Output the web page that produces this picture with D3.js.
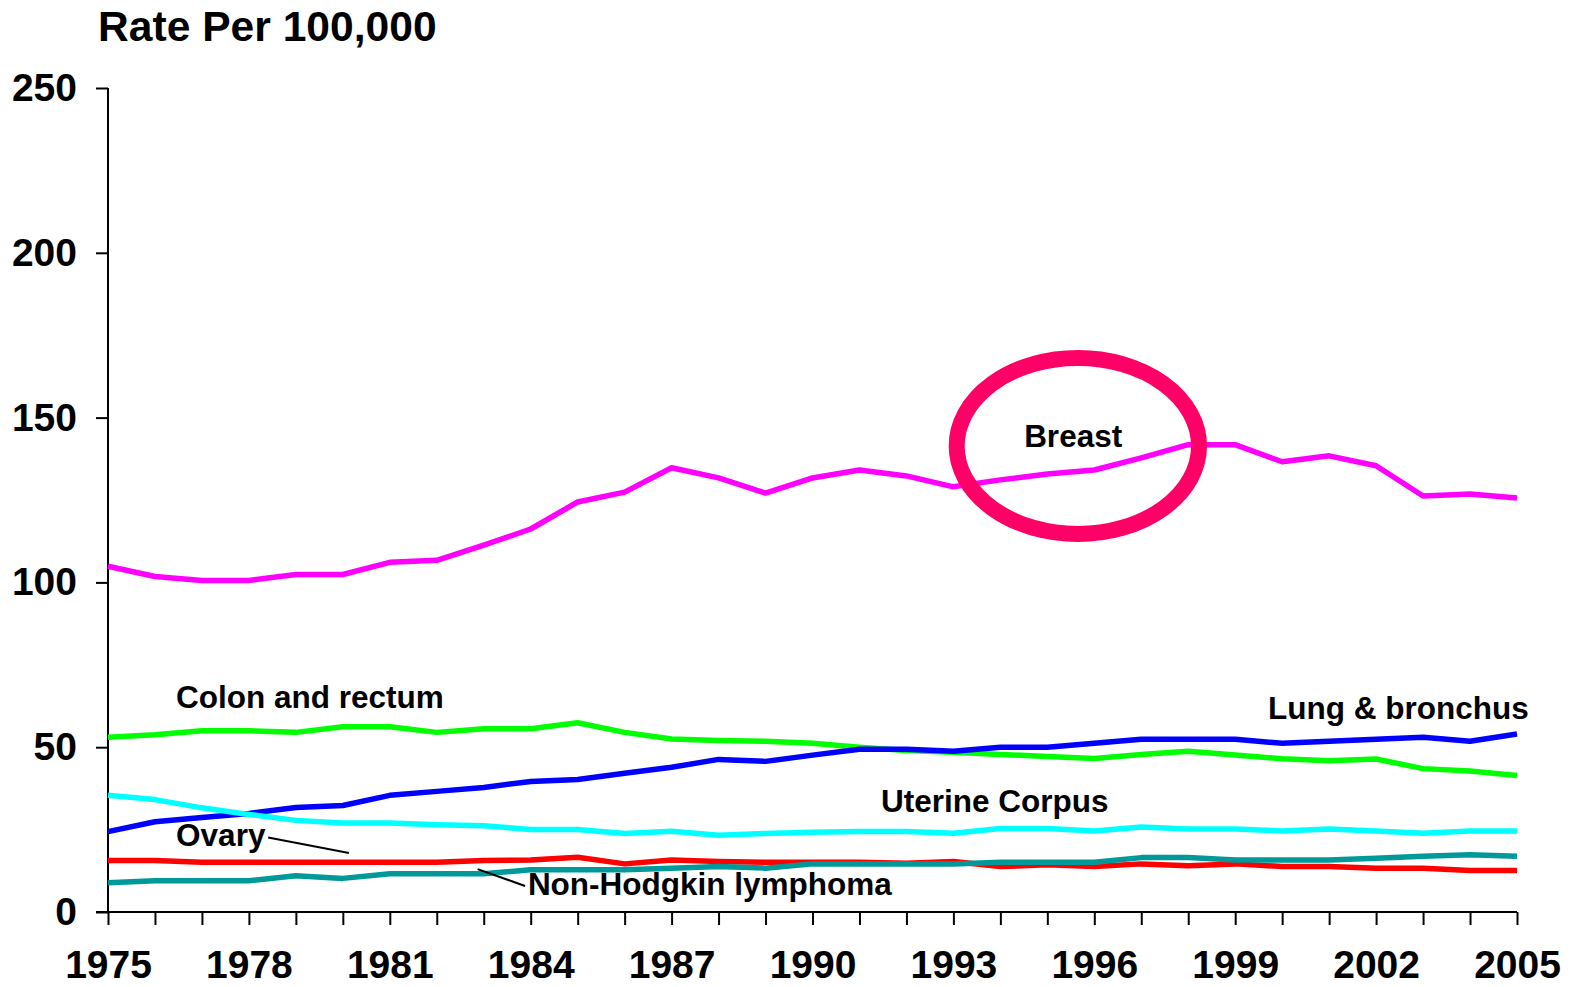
<!DOCTYPE html>
<html>
<head>
<meta charset="utf-8">
<script src="https://cdn.jsdelivr.net/npm/d3@7"></script>
<style>
  body { margin: 0; background: #fff; }
  svg { font-family: "Liberation Sans", Arial, sans-serif; font-weight: bold; }
  .axis path, .axis line { stroke: #000; stroke-width: 2; }
</style>
</head>
<body>
<div id="chart"></div>
<script>
// years 1975..2005
var years = d3.range(1975, 2006);

var breast = [104.9, 101.8, 100.6, 100.6, 102.4, 102.4, 106.1, 106.7, 111.3, 116.2,
              124.4, 127.4, 134.8, 131.7, 127.1, 131.7, 134.1, 132.3, 129.0, 131.1,
              132.9, 134.1, 137.8, 141.8, 141.8, 136.6, 138.4, 135.4, 126.2, 126.8, 125.6];
var colon = [53.0, 53.8, 55.0, 55.0, 54.5, 56.2, 56.2, 54.5, 55.6, 55.6,
             57.4, 54.5, 52.5, 52.0, 51.8, 51.2, 50.0, 49.0, 48.5, 47.8,
             47.2, 46.6, 47.8, 48.8, 47.6, 46.5, 45.9, 46.4, 43.5, 42.8, 41.4];
var lung = [24.4, 27.4, 28.7, 29.9, 31.7, 32.3, 35.4, 36.6, 37.8, 39.6,
            40.2, 42.1, 43.9, 46.3, 45.7, 47.6, 49.4, 49.4, 48.8, 50.0,
            50.0, 51.2, 52.4, 52.4, 52.4, 51.2, 51.8, 52.4, 53.0, 51.8, 54.0];
var uterine = [35.4, 34.1, 31.6, 29.6, 27.8, 27.0, 27.0, 26.5, 26.2, 25.0,
               25.0, 23.8, 24.5, 23.3, 23.8, 24.2, 24.4, 24.4, 23.9, 25.3,
               25.3, 24.6, 25.8, 25.2, 25.2, 24.6, 25.2, 24.6, 23.9, 24.6, 24.6];
var ovary = [15.6, 15.6, 15.1, 15.1, 15.1, 15.1, 15.1, 15.1, 15.6, 15.8,
             16.6, 14.6, 15.8, 15.3, 15.1, 15.1, 15.1, 14.8, 15.3, 13.8,
             14.3, 13.8, 14.6, 14.0, 14.6, 13.8, 13.8, 13.3, 13.3, 12.6, 12.6];
var nhl = [8.9, 9.5, 9.5, 9.5, 11.0, 10.2, 11.6, 11.6, 11.6, 12.8,
           12.8, 12.8, 13.3, 13.8, 13.3, 14.6, 14.6, 14.6, 14.6, 15.1,
           15.1, 15.1, 16.5, 16.5, 15.8, 15.8, 15.8, 16.3, 16.9, 17.4, 16.9];

var yTicks = [0, 50, 100, 150, 200, 250];
var xTickLabels = [1975, 1978, 1981, 1984, 1987, 1990, 1993, 1996, 1999, 2002, 2005];

var series = [
  { name: "Colon and rectum", values: colon, color: "#00ff00" },
  { name: "Lung & bronchus", values: lung, color: "#0000ff" },
  { name: "Uterine Corpus", values: uterine, color: "#00ffff" },
  { name: "Ovary", values: ovary, color: "#ff0000" },
  { name: "Non-Hodgkin lymphoma", values: nhl, color: "#009999" },
  { name: "Breast", values: breast, color: "#ff00ff" }
];

// label positions given in data units (year, rate)
var labels = [
  { text: "Breast", year: 1995.55, rate: 141.0, anchor: "middle" },
  { text: "Colon and rectum", year: 1976.45, rate: 61.8, anchor: "start" },
  { text: "Lung & bronchus", year: 2005.25, rate: 58.6, anchor: "end" },
  { text: "Uterine Corpus", year: 1991.46, rate: 30.2, anchor: "start" },
  { text: "Ovary", year: 1976.45, rate: 20.1, anchor: "start" },
  { text: "Non-Hodgkin lymphoma", year: 1983.94, rate: 5.2, anchor: "start" }
];
// pointer lines [year1, rate1, year2, rate2]
var pointers = [
  [1978.41, 22.6, 1980.13, 17.9],
  [1982.87, 13.0, 1983.88, 7.9]
];
// highlight ellipse: centre (year, rate), half-width in years, half-height in rate
var highlight = { year: 1995.65, rate: 141.4, rYears: 2.58, rRate: 26.7 };

var margin = {top: 88, right: 60, bottom: 75, left: 108},
    width = 1577 - margin.left - margin.right,
    height = 987 - margin.top - margin.bottom;

var svgRoot = d3.select("#chart").append("svg")
    .attr("width", 1577)
    .attr("height", 987);
var svg = svgRoot.append("g")
    .attr("transform", "translate(" + margin.left + "," + margin.top + ")");

var x = d3.scaleLinear().domain([1975, 2005]).range([0, width]);
var y = d3.scaleLinear().domain([0, 250]).range([height, 0]);

// title
svgRoot.append("text")
    .attr("x", 98)
    .attr("y", 41)
    .style("font-size", "42.6px")
    .text("Rate Per 100,000");

// y axis
var yAxis = svg.append("g")
    .attr("class", "axis")
    .call(d3.axisLeft(y).tickValues(yTicks).tickSize(12).tickPadding(19).tickSizeOuter(0));
yAxis.select(".domain").attr("d", "M0," + y(0) + "V" + y(250));
yAxis.selectAll("text").style("font-size", "39px").attr("fill", "#000");

// x axis
var xAxis = svg.append("g")
    .attr("class", "axis")
    .attr("transform", "translate(0," + height + ")")
    .call(d3.axisBottom(x).tickValues(years).tickSize(13).tickSizeOuter(0)
      .tickFormat(function(d) { return xTickLabels.indexOf(d) >= 0 ? d : ""; }));
xAxis.select(".domain").attr("d", "M-12,0H" + width);
xAxis.selectAll("text").style("font-size", "39px").attr("fill", "#000")
    .attr("y", 66).attr("dy", 0);

var line = d3.line()
    .x(function(d, i) { return x(years[i]); })
    .y(function(d) { return y(d); });

svg.selectAll("path.series")
    .data(series)
    .enter().append("path")
    .attr("class", "series")
    .attr("fill", "none")
    .attr("stroke", function(d) { return d.color; })
    .attr("stroke-width", 5.5)
    .attr("stroke-linejoin", "round")
    .attr("d", function(d) { return line(d.values); });

// highlight ellipse around breast peak
svg.append("ellipse")
    .attr("cx", x(highlight.year))
    .attr("cy", y(highlight.rate))
    .attr("rx", x(1975 + highlight.rYears))
    .attr("ry", height - y(highlight.rRate))
    .attr("fill", "none")
    .attr("stroke", "#ff0066")
    .attr("stroke-width", 16);

svg.selectAll("line.pointer")
    .data(pointers)
    .enter().append("line")
    .attr("class", "pointer")
    .attr("x1", function(d) { return x(d[0]); })
    .attr("y1", function(d) { return y(d[1]); })
    .attr("x2", function(d) { return x(d[2]); })
    .attr("y2", function(d) { return y(d[3]); })
    .attr("stroke", "#000")
    .attr("stroke-width", 2);

svg.selectAll("text.label")
    .data(labels)
    .enter().append("text")
    .attr("class", "label")
    .attr("x", function(d) { return x(d.year); })
    .attr("y", function(d) { return y(d.rate); })
    .attr("text-anchor", function(d) { return d.anchor; })
    .style("font-size", "31.5px")
    .text(function(d) { return d.text; });
</script>
</body>
</html>
